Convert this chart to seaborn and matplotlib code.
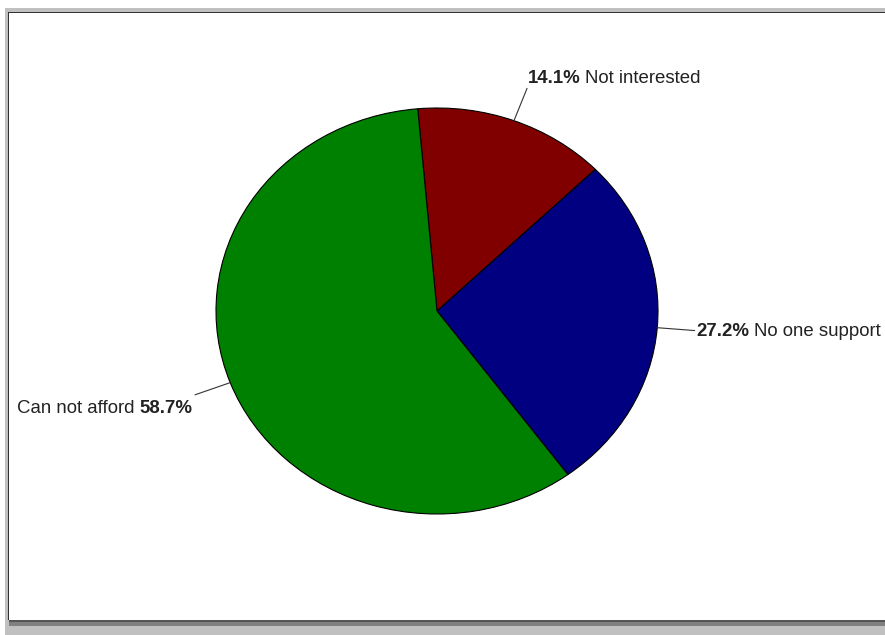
import numpy as np
import matplotlib
matplotlib.use("Agg")
import matplotlib.pyplot as plt
import seaborn as sns
from matplotlib.patches import Rectangle

# ---- data ----
categories = ["Not interested", "No one support", "Can not afford"]
values = [14.1, 27.2, 58.7]
colors = ["#800000", "#000080", "#008000"]

sns.set_theme(style="white")
plt.rcParams['font.family'] = ['Liberation Sans', 'DejaVu Sans']

W, H = 885, 635
FS = 13.4
TXT = "#222222"
fig = plt.figure(figsize=(W / 100, H / 100), dpi=100)
fig.patch.set_facecolor('white')


def box(x0, y0, x1, y1, color, z=0):
    fig.add_artist(Rectangle((x0 / W, 1 - y1 / H), (x1 - x0) / W, (y1 - y0) / H,
                             transform=fig.transFigure, facecolor=color,
                             edgecolor='none', zorder=z))


# frame / shadow
box(5, 8, W, H, "#c0c0c0", -3)
box(9, 13, W, 626, "#808080", -2)
box(9, 13, W, 622, "#555555", -2)
box(8, 12, W, 620, "#333333", -1)
box(9, 13, W, 620, "white", -1)

# pie axes: center (437,311), rx=221, ry=203
cx, cy, rx, ry = 437, 311, 221, 203
ax = fig.add_axes([(cx - rx) / W, 1 - (cy + ry) / H, 2 * rx / W, 2 * ry / H])
START = 95
wedges, _ = ax.pie(values, colors=colors, startangle=START, counterclock=False,
                   wedgeprops=dict(edgecolor='black', linewidth=0.8))
for w in wedges:
    w.set_clip_on(False)
ax.set_xlim(-1, 1)
ax.set_ylim(-1, 1)
ax.set_aspect('auto')
ax.axis('off')

renderer = fig.canvas.get_renderer()


def width_of(s, weight):
    t = fig.text(0, 0, s, fontsize=FS, fontweight=weight)
    wdt = t.get_window_extent(renderer).width
    t.remove()
    return wdt


gap = FS * 0.22 * 100 / 72

total = sum(values)
cum = 0.0
for cat, v in zip(categories, values):
    ang = np.deg2rad(START - 360 * (cum + v / 2) / total)
    cum += v
    x, y = np.cos(ang), np.sin(ang)
    R = 1.17
    ax.plot([x, R * x], [y, R * y], color="#333333", lw=0.8, clip_on=False)
    ex, ey = ax.transData.transform((R * x, R * y))
    pct = f"{v}%"
    if x > 0:
        parts = [(pct, 'bold'), (cat, 'normal')]
    else:
        parts = [(cat, 'normal'), (pct, 'bold')]
    ws = [width_of(s, wt) for s, wt in parts]
    tw = ws[0] + gap + ws[1]
    if y > 0.5:
        bx, by = ex + 1, ey + 5
    elif y < -0.3:
        bx, by = ex + 3, ey - 18
    else:
        bx, by = ex + 2, ey - 5
    x0 = bx if x > 0 else bx - 6 - tw
    for (s, wt), wd in zip(parts, ws):
        fig.text(x0 / W, by / H, s, fontsize=FS, fontweight=wt, color=TXT,
                 ha='left', va='baseline')
        x0 += wd + gap

fig.savefig("out.png", dpi=100)
